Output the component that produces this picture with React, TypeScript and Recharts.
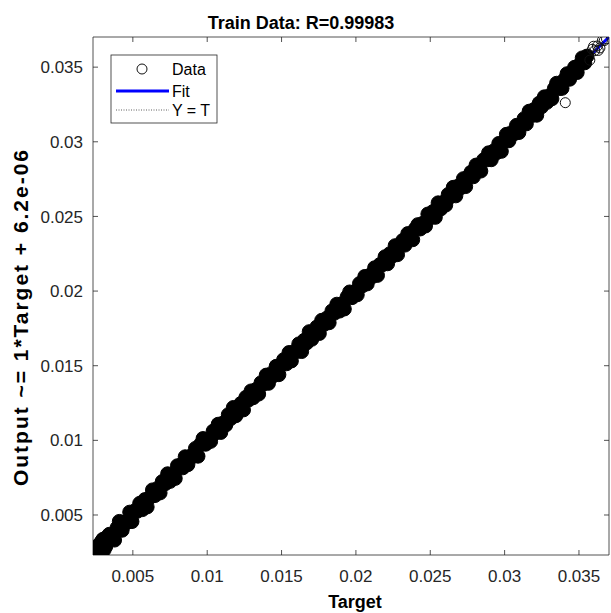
import React from 'react';
import { ScatterChart, Scatter, XAxis, YAxis, ReferenceArea, Customized } from 'recharts';

// ---------- data ----------
const targets = [
  0.00258,0.00274,0.00292,0.00307,0.00326,0.00343,0.00359,0.00377,0.00394,0.00409,
  0.00428,0.00444,0.00462,0.00479,0.00494,0.00513,0.00530,0.00546,0.00564,0.00581,
  0.00596,0.00615,0.00632,0.00648,0.00666,0.00683,0.00698,0.00717,0.00734,0.00750,
  0.00768,0.00785,0.00800,0.00819,0.00836,0.00852,0.00870,0.00887,0.00902,0.00921,
  0.00938,0.00954,0.00972,0.00989,0.01004,0.01023,0.01040,0.01056,0.01074,0.01091,
  0.01106,0.01125,0.01142,0.01158,0.01176,0.01193,0.01208,0.01227,0.01244,0.01260,
  0.01278,0.01295,0.01310,0.01329,0.01346,0.01362,0.01380,0.01397,0.01412,0.01431,
  0.01448,0.01464,0.01482,0.01499,0.01514,0.01533,0.01550,0.01566,0.01584,0.01601,
  0.01616,0.01635,0.01652,0.01668,0.01686,0.01703,0.01718,0.01737,0.01754,0.01770,
  0.01788,0.01805,0.01820,0.01839,0.01856,0.01872,0.01890,0.01907,0.01922,0.01941,
  0.01958,0.01974,0.01992,0.02009,0.02024,0.02043,0.02060,0.02076,0.02094,0.02111,
  0.02126,0.02145,0.02162,0.02178,0.02196,0.02213,0.02228,0.02247,0.02264,0.02280,
  0.02298,0.02315,0.02330,0.02349,0.02366,0.02382,0.02400,0.02417,0.02432,0.02451,
  0.02468,0.02484,0.02502,0.02519,0.02534,0.02553,0.02570,0.02586,0.02604,0.02621,
  0.02636,0.02655,0.02672,0.02688,0.02706,0.02723,0.02738,0.02757,0.02774,0.02790,
  0.02808,0.02825,0.02840,0.02859,0.02876,0.02892,0.02910,0.02927,0.02942,0.02961,
  0.02978,0.02994,0.03012,0.03029,0.03044,0.03063,0.03080,0.03096,0.03114,0.03131,
  0.03146,0.03165,0.03182,0.03198,0.03216,0.03233,0.03248,0.03267,0.03284,0.03300,
  0.03318,0.03335,0.03350,0.03369,0.03386,0.03402,0.03420,0.03437,0.03452,0.03471,
  0.03488,0.03504,0.03522,0.03539,0.03554,
  0.00262,0.00270,0.00285,0.00300,0.00318,0.00335,
];
const outputs = [
  0.00268,0.00252,0.00327,0.00267,0.00331,0.00371,0.00344,0.00332,0.00414,0.00457,
  0.00398,0.00452,0.00450,0.00519,0.00456,0.00528,0.00525,0.00578,0.00536,0.00603,
  0.00554,0.00618,0.00668,0.00630,0.00678,0.00648,0.00724,0.00709,0.00776,0.00725,
  0.00768,0.00745,0.00830,0.00833,0.00816,0.00890,0.00837,0.00893,0.00892,0.00946,
  0.00894,0.00972,0.01012,0.00974,0.01008,0.00993,0.01062,0.01050,0.01108,0.01053,
  0.01116,0.01103,0.01172,0.01146,0.01220,0.01165,0.01210,0.01247,0.01204,0.01288,
  0.01270,0.01331,0.01286,0.01341,0.01310,0.01386,0.01378,0.01437,0.01382,0.01447,
  0.01434,0.01496,0.01440,0.01505,0.01540,0.01513,0.01588,0.01532,0.01594,0.01595,
  0.01646,0.01595,0.01670,0.01652,0.01728,0.01677,0.01722,0.01759,0.01716,0.01804,
  0.01778,0.01819,0.01788,0.01867,0.01852,0.01912,0.01866,0.01915,0.01880,0.01961,
  0.01994,0.01956,0.01994,0.01975,0.02050,0.02035,0.02098,0.02048,0.02106,0.02097,
  0.02156,0.02105,0.02178,0.02176,0.02230,0.02183,0.02250,0.02235,0.02304,0.02244,
  0.02304,0.02339,0.02308,0.02385,0.02360,0.02344,0.02418,0.02445,0.02416,0.02455,
  0.02436,0.02516,0.02492,0.02533,0.02494,0.02591,0.02550,0.02594,0.02576,0.02647,
  0.02632,0.02695,0.02638,0.02704,0.02692,0.02753,0.02700,0.02767,0.02796,0.02766,
  0.02844,0.02817,0.02804,0.02879,0.02878,0.02926,0.02880,0.02939,0.02924,0.02989,
  0.02936,0.03000,0.03050,0.03007,0.03060,0.03053,0.03110,0.03062,0.03118,0.03155,
  0.03120,0.03205,0.03176,0.03216,0.03178,0.03259,0.03234,0.03301,0.03264,0.03308,
  0.03288,0.03357,0.03392,0.03357,0.03358,0.03416,0.03456,0.03419,0.03456,0.03499,
  0.03464,0.03516,0.03562,0.03529,0.03574,
  0.00243,0.00300,0.00262,0.00338,0.00290,0.00362,
];
// sparser points near the top end and the stray outlier (circles show individually)
const sparseTargets = [0.03573,0.03590,0.03606,0.03624,0.03641,0.03658,0.03670,0.03408,0.03685,0.03598,0.03630];
const sparseOutputs = [0.03547,0.03620,0.03610,0.03642,0.03629,0.03680,0.03678,0.03262,0.03690,0.03640,0.03612];

const fitTargets = [0.00232, 0.03702];
const fitOutputs = [0.0023262, 0.0370262];
const identityTargets = [0.00232, 0.03702];
const identityOutputs = [0.00232, 0.03702];

const xTicks = [0.005, 0.01, 0.015, 0.02, 0.025, 0.03, 0.035];
const xTickLabels = ['0.005', '0.01', '0.015', '0.02', '0.025', '0.03', '0.035'];
const yTicks = [0.005, 0.01, 0.015, 0.02, 0.025, 0.03, 0.035];
const yTickLabels = ['0.005', '0.01', '0.015', '0.02', '0.025', '0.03', '0.035'];

const X_DOMAIN: [number, number] = [0.00232, 0.03702];
const Y_DOMAIN: [number, number] = [0.00232, 0.03702];

const TITLE = 'Train Data: R=0.99983';
const X_LABEL = 'Target';
const Y_LABEL = 'Output ~= 1*Target + 6.2e-06';
const LEGEND_LABELS = ['Data', 'Fit', 'Y = T'];

// ---------- layout ----------
const W = 611;
const H = 613;
const MARGIN = { top: 37, right: 2, bottom: 0, left: 0 };
const Y_AXIS_W = 93;
const X_AXIS_H = 58;
const PLOT_LEFT = MARGIN.left + Y_AXIS_W;
const PLOT_TOP = MARGIN.top;
const PLOT_RIGHT = W - MARGIN.right;
const PLOT_BOTTOM = H - MARGIN.bottom - X_AXIS_H;
const FONT = '"Liberation Sans", Arial, Helvetica, sans-serif';
const AXIS_COLOR = '#262626';
const TICK_LEN = 5;

const bandData = targets.map((t, i) => ({ x: t, y: outputs[i] }));
const sparseData = sparseTargets.map((t, i) => ({ x: t, y: sparseOutputs[i] }));
const fitData = fitTargets.map((t, i) => ({ x: t, y: fitOutputs[i] }));
const identityData = identityTargets.map((t, i) => ({ x: t, y: identityOutputs[i] }));

const XTick = (props: any) => {
  const { x, payload } = props;
  const idx = xTicks.indexOf(payload.value);
  return (
    <g>
      <line x1={x} x2={x} y1={PLOT_BOTTOM} y2={PLOT_BOTTOM - TICK_LEN} stroke={AXIS_COLOR} strokeWidth={0.8} />
      <line x1={x} x2={x} y1={PLOT_TOP} y2={PLOT_TOP + TICK_LEN} stroke={AXIS_COLOR} strokeWidth={0.8} />
      <text x={x} y={PLOT_BOTTOM + 27} textAnchor="middle" fontFamily={FONT} fontSize={17} fill={AXIS_COLOR}>
        {idx >= 0 ? xTickLabels[idx] : payload.value}
      </text>
    </g>
  );
};

const YTick = (props: any) => {
  const { y, payload } = props;
  const idx = yTicks.indexOf(payload.value);
  return (
    <g>
      <line x1={PLOT_LEFT} x2={PLOT_LEFT + TICK_LEN} y1={y} y2={y} stroke={AXIS_COLOR} strokeWidth={0.8} />
      <line x1={PLOT_RIGHT - TICK_LEN} x2={PLOT_RIGHT} y1={y} y2={y} stroke={AXIS_COLOR} strokeWidth={0.8} />
      <text x={PLOT_LEFT - 10} y={y} dy="0.36em" textAnchor="end" fontFamily={FONT} fontSize={17} fill={AXIS_COLOR}>
        {idx >= 0 ? yTickLabels[idx] : payload.value}
      </text>
    </g>
  );
};

const FilledDot = (props: any) => (
  <circle cx={props.cx} cy={props.cy} r={7} fill="#000" stroke="#000" strokeWidth={1} />
);
const RingDot = (props: any) => (
  <circle cx={props.cx} cy={props.cy} r={5} fill="none" stroke="#111" strokeWidth={1} />
);
const NoDot = () => <g />;

const Overlay = () => {
  const lx = 111;
  const ly = 55;
  return (
    <g fontFamily={FONT}>
      <text x={301} y={29} textAnchor="middle" fontSize={18} fontWeight="bold" fill="#000">{TITLE}</text>
      <text x={355} y={608} textAnchor="middle" fontSize={18} fontWeight="bold" fill="#000">{X_LABEL}</text>
      <text
        x={28}
        y={318}
        textAnchor="middle"
        fontSize={21}
        fontWeight="bold"
        fill="#000"
        textLength={336}
        lengthAdjust="spacing"
        transform="rotate(-90 28 318)"
      >
        {Y_LABEL}
      </text>
      <rect x={lx} y={ly} width={106} height={68} fill="#fff" stroke={AXIS_COLOR} strokeWidth={0.8} />
      <circle cx={lx + 31} cy={ly + 14} r={5} fill="none" stroke="#111" strokeWidth={1} />
      <text x={lx + 61} y={ly + 14} dy="0.36em" fontSize={16} fill="#000">{LEGEND_LABELS[0]}</text>
      <line x1={lx + 5} x2={lx + 58} y1={ly + 36} y2={ly + 36} stroke="#0000ff" strokeWidth={3} />
      <text x={lx + 61} y={ly + 36} dy="0.36em" fontSize={16} fill="#000">{LEGEND_LABELS[1]}</text>
      <line x1={lx + 5} x2={lx + 58} y1={ly + 55} y2={ly + 55} stroke="#333" strokeWidth={0.8} strokeDasharray="1 1.5" />
      <text x={lx + 61} y={ly + 55} dy="0.36em" fontSize={16} fill="#000">{LEGEND_LABELS[2]}</text>
    </g>
  );
};

export default function App() {
  return (
    <div style={{ width: W, height: H, background: '#fff' }}>
      <style>{'body{margin:0;background:#fff;}'}</style>
      <ScatterChart width={W} height={H} margin={MARGIN}>
        <XAxis
          type="number"
          dataKey="x"
          domain={X_DOMAIN}
          allowDataOverflow
          ticks={xTicks}
          interval={0}
          tick={<XTick />}
          tickLine={false}
          axisLine={false}
          tickSize={0}
          height={X_AXIS_H}
        />
        <YAxis
          type="number"
          dataKey="y"
          domain={Y_DOMAIN}
          allowDataOverflow
          ticks={yTicks}
          interval={0}
          tick={<YTick />}
          tickLine={false}
          axisLine={false}
          tickSize={0}
          width={Y_AXIS_W}
        />
        <Scatter
          data={identityData}
          line={{ stroke: '#333', strokeWidth: 0.8, strokeDasharray: '1 1.5' }}
          shape={NoDot}
          isAnimationActive={false}
        />
        <Scatter
          data={fitData}
          line={{ stroke: '#0000ff', strokeWidth: 3 }}
          shape={NoDot}
          isAnimationActive={false}
        />
        <Scatter data={bandData} shape={FilledDot} isAnimationActive={false} />
        <Scatter data={sparseData} shape={RingDot} isAnimationActive={false} />
        <ReferenceArea
          x1={X_DOMAIN[0]}
          x2={X_DOMAIN[1]}
          y1={Y_DOMAIN[0]}
          y2={Y_DOMAIN[1]}
          fill="none"
          fillOpacity={0}
          stroke={AXIS_COLOR}
          strokeWidth={0.8}
          ifOverflow="visible"
        />
        <Customized component={Overlay} />
      </ScatterChart>
    </div>
  );
}
